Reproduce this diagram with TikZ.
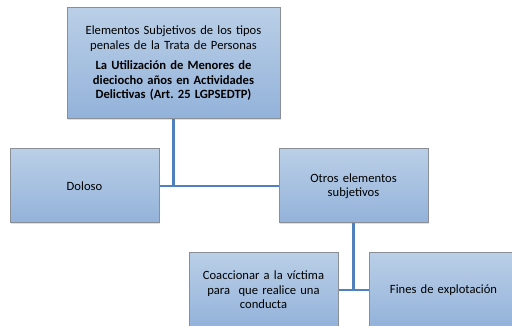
\documentclass[tikz,border=0pt]{standalone}
\usepackage{fontspec}
\setmainfont{Carlito}
\usetikzlibrary{shadows}
\definecolor{boxtop}{HTML}{BACFE7}
\definecolor{boxbot}{HTML}{93B2DA}
\definecolor{boxline}{HTML}{8A8F96}
\definecolor{conn}{HTML}{4F81BD}
\begin{document}
\frenchspacing
\begin{tikzpicture}[x=1pt,y=-1pt,
  box/.style={draw=boxline,line width=1pt,top color=boxtop,bottom color=boxbot,
    align=center,font=\fontsize{12.6}{14.5}\selectfont,inner sep=2pt,
    drop shadow={opacity=0.25,shadow xshift=0.8pt,shadow yshift=-0.8pt}},
  conn/.style={draw=conn,line width=2.6pt}]
\useasboundingbox (0,0) rectangle (512,326);
\node[box,minimum width=213pt,minimum height=111pt,text width=206pt] (top) at (173.5,63.5)
  {Elementos Subjetivos de los tipos\\penales de la Trata de Personas\\[6pt]
   \textbf{La Utilización de Menores de}\\\textbf{dieciocho años en Actividades}\\\textbf{Delictivas (Art. 25 LGPSEDTP)}};
\node[box,minimum width=149pt,minimum height=74pt,text width=144pt] (dol) at (84.5,186) {Doloso};
\node[box,minimum width=149pt,minimum height=74pt,text width=144pt] (otr) at (353.5,186) {Otros elementos\\subjetivos};
\node[box,minimum width=149pt,minimum height=74pt,text width=144pt] (coa) at (263.5,290) {Coaccionar a la víctima\\para\ \ que realice una\\conducta};
\node[box,minimum width=149pt,minimum height=74pt,text width=144pt] (fin) at (443.5,290) {Fines de explotación};
\draw[conn] (top.south) -- (top.south |- dol.east);
\draw[conn] (dol.east) -- (otr.west);
\draw[conn] (otr.south) -- (otr.south |- coa.east);
\draw[conn] (coa.east) -- (fin.west);
\end{tikzpicture}
\end{document}
